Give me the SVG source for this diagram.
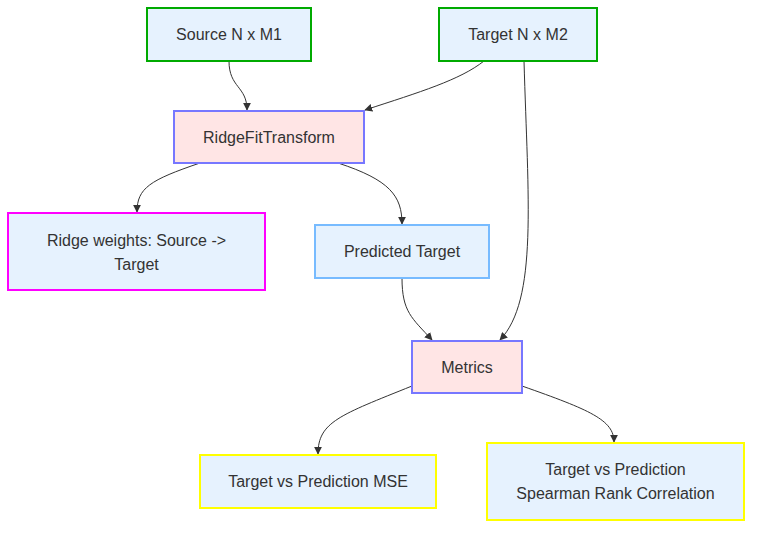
<svg xmlns="http://www.w3.org/2000/svg" width="760" height="534" viewBox="0 0 760 534">
<style>
.lbl{font-family:"Liberation Sans",Arial,sans-serif;font-size:16px;fill:#333;text-anchor:middle;dominant-baseline:central}
.edge{fill:none;stroke:#333;stroke-width:1}
.g{fill:#e6f2fe;stroke:#00aa00;stroke-width:2}
.p{fill:#ffe5e5;stroke:#7777ff;stroke-width:2}
.m{fill:#e6f2fe;stroke:#ff00ff;stroke-width:2}
.b{fill:#e6f2fe;stroke:#77bbff;stroke-width:2}
.y{fill:#e6f2fe;stroke:#ffff00;stroke-width:2}
</style>
<defs>
<marker id="ah" viewBox="0 0 10 10" refX="9" refY="5" markerWidth="8" markerHeight="8" orient="auto" markerUnits="userSpaceOnUse">
<path d="M0,0 L10,5 L0,10 z" fill="#333"/>
</marker>
</defs>
<g id="connectors">
<path class="edge" marker-end="url(#ah)" d="M229,61 C229,88 247,86 247,110"/>
<path class="edge" marker-end="url(#ah)" d="M484,61 C460,80 420,92 365,110"/>
<path class="edge" marker-end="url(#ah)" d="M524,61 C528,200 538,300 500,340"/>
<path class="edge" marker-end="url(#ah)" d="M200,163 C150,180 137,188 137,212"/>
<path class="edge" marker-end="url(#ah)" d="M338,163 C390,180 402,196 402,224"/>
<path class="edge" marker-end="url(#ah)" d="M402,278 C402,312 412,318 432,340"/>
<path class="edge" marker-end="url(#ah)" d="M412,386 C340,415 318,422 318,454"/>
<path class="edge" marker-end="url(#ah)" d="M522,386 C590,410 614,420 614,442"/>
</g>
<g id="source"><rect class="g" x="147" y="8" width="164" height="53"/><text class="lbl" x="229" y="34.5">Source N x M1</text></g>
<g id="target"><rect class="g" x="439" y="8" width="158" height="53"/><text class="lbl" x="518" y="34.5">Target N x M2</text></g>
<g id="ridgefit"><rect class="p" x="174" y="111" width="190" height="52"/><text class="lbl" x="269" y="137">RidgeFitTransform</text></g>
<g id="weights"><rect class="m" x="8" y="213" width="257" height="77"/><text class="lbl" x="136.5" y="240">Ridge weights: Source -&gt;</text><text class="lbl" x="136.5" y="264">Target</text></g>
<g id="predicted"><rect class="b" x="315" y="225" width="174" height="53"/><text class="lbl" x="402" y="251.5">Predicted Target</text></g>
<g id="metrics"><rect class="p" x="412" y="341" width="110" height="52"/><text class="lbl" x="467" y="367">Metrics</text></g>
<g id="mse"><rect class="y" x="200" y="455" width="236" height="53"/><text class="lbl" x="318" y="481.5">Target vs Prediction MSE</text></g>
<g id="spearman"><rect class="y" x="487" y="443" width="257" height="77"/><text class="lbl" x="615.5" y="469">Target vs Prediction</text><text class="lbl" x="615.5" y="493">Spearman Rank Correlation</text></g>
</svg>
